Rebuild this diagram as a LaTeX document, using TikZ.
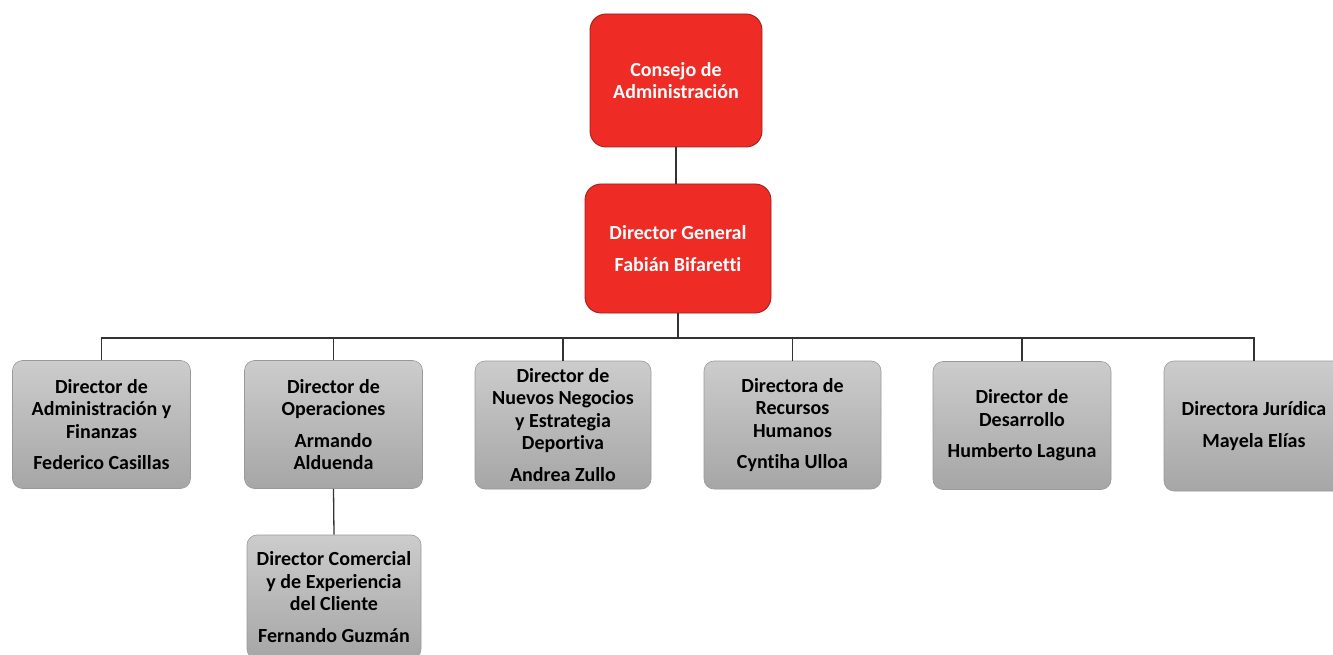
\documentclass[tikz,border=0pt]{standalone}
\usepackage{fontspec}
\setmainfont[Ligatures=NoCommon]{Carlito}
\definecolor{rojo}{HTML}{EE2B24}
\definecolor{rojoborde}{HTML}{A31F1B}
\definecolor{grisclaro}{HTML}{CCCCCC}
\definecolor{grisoscuro}{HTML}{A6A6A6}
\definecolor{grisborde}{HTML}{999999}
\definecolor{linea}{HTML}{333333}
\begin{document}
\begin{tikzpicture}[x=1pt,y=-1pt,
    texto/.style={font=\bfseries\fontsize{20}{22.5}\selectfont,align=center,inner sep=0pt},
    cajaroja/.style={texto,rounded corners=16pt,draw=rojoborde,fill=rojo,text=white,line width=0.9pt},
    cajagris/.style={texto,rounded corners=10pt,draw=grisborde,top color=grisclaro,bottom color=grisoscuro,text=black,line width=0.6pt,minimum width=178pt,minimum height=128pt},
    conn/.style={draw=linea,line width=1.3pt}]
    \useasboundingbox (0,0) rectangle (1333,655);
    \clip (0,0) rectangle (1333,655);
    \coordinate (bus) at (0,338);
    \node[cajaroja,minimum width=172pt,minimum height=133pt] (consejo) at (676,80.5) {Consejo de\\Administración};
    \node[cajaroja,minimum width=186pt,minimum height=129pt] (dg) at (678,248.5) {Director General\\[9pt]Fabián Bifaretti};
    \node[cajagris] (adm) at (101.5,424.5) {Director de\\Administración y\\Finanzas\\[9pt]Federico Casillas};
    \node[cajagris] (ope) at (333.5,424.5) {Director de\\Operaciones\\[9pt]Armando\\Alduenda};
    \node[cajagris,minimum width=176pt] (neg) at (563,425) {Director de\\Nuevos Negocios\\y Estrategia\\Deportiva\\[9pt]Andrea Zullo};
    \node[cajagris,minimum width=177pt] (rh) at (792.5,425) {Directora de\\Recursos\\Humanos\\[9pt]Cyntiha Ulloa};
    \node[cajagris] (des) at (1022,425.5) {Director de\\Desarrollo\\[9pt]Humberto Laguna};
    \node[cajagris,minimum width=180pt,minimum height=130pt] (jur) at (1254,426) {Directora Jurídica\\[9pt]Mayela Elías};
    \node[cajagris,minimum width=174pt,minimum height=124pt] (com) at (334,597) {Director Comercial\\y de Experiencia\\del Cliente\\[9pt]Fernando Guzmán};
    \draw[conn] (consejo.south) -- (consejo.south |- dg.north);
    \foreach \n in {adm,ope,neg,rh,des,jur}
        \draw[conn] (dg.south) -- (dg.south |- bus) -| (\n.north);
    \draw[conn] (ope.south) -- (com.north);
\end{tikzpicture}
\end{document}
